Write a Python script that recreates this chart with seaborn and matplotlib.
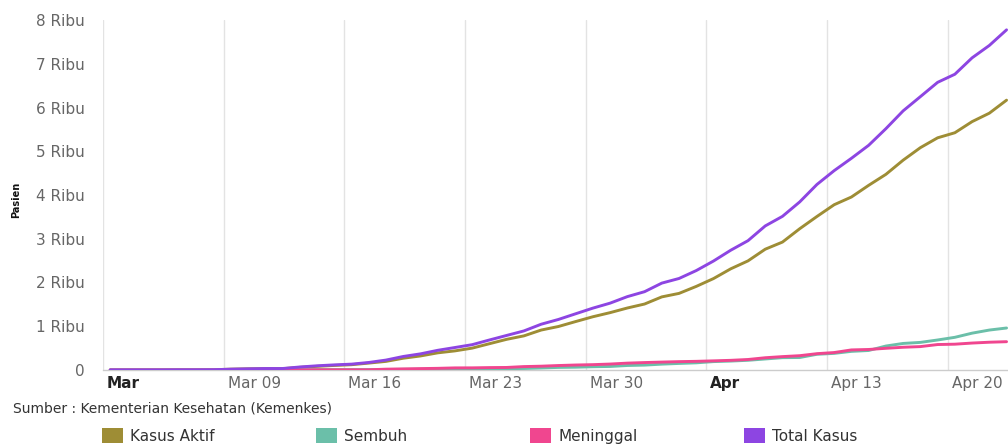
import numpy as np
import pandas as pd
import matplotlib
matplotlib.use("Agg")
import matplotlib.pyplot as plt
import matplotlib.dates as mdates
import matplotlib.transforms as mtransforms
from matplotlib.patches import Patch
import seaborn as sns

# ---- data (Mar 2 .. Apr 23, 2020) ----
start_date = "2020-03-02 10:00"
total_kasus = [2, 2, 2, 2, 4, 4, 6, 19, 27, 34, 34, 69, 96, 117, 134, 172, 227, 309, 369, 450,
               514, 579, 686, 790, 893, 1046, 1155, 1285, 1414, 1528, 1677, 1790, 1986, 2092,
               2273, 2491, 2738, 2956, 3293, 3512, 3842, 4241, 4557, 4839, 5136, 5516, 5923,
               6248, 6575, 6760, 7135, 7418, 7775]
sembuh = [0, 0, 0, 0, 0, 0, 0, 0, 0, 2, 3, 5, 8, 8, 8, 9, 11, 15, 16, 20,
          29, 30, 30, 31, 35, 46, 59, 64, 75, 81, 103, 112, 134, 150,
          164, 192, 204, 222, 252, 282, 286, 359, 380, 426, 446, 548, 607,
          631, 686, 747, 842, 913, 960]
meninggal = [0, 0, 0, 0, 0, 0, 0, 0, 0, 1, 1, 4, 5, 5, 5, 5, 19, 25, 32, 38,
             48, 49, 55, 58, 78, 87, 102, 114, 122, 136, 157, 170, 181, 191,
             198, 209, 221, 240, 280, 306, 327, 373, 399, 459, 469, 496, 520,
             535, 582, 590, 616, 635, 647]
kasus_aktif = [2, 2, 2, 2, 4, 4, 6, 19, 27, 31, 30, 60, 83, 104, 121, 158, 197, 269, 321, 392,
               437, 500, 601, 701, 780, 913, 994, 1107, 1217, 1311, 1417, 1508, 1671, 1751,
               1911, 2090, 2313, 2494, 2761, 2924, 3229, 3509, 3778, 3954, 4221, 4472, 4796,
               5082, 5307, 5423, 5677, 5870, 6168]

series_names = ["Kasus Aktif", "Sembuh", "Meninggal", "Total Kasus"]
series_colors = ["#9E8D35", "#6BBFA9", "#F0468F", "#8D45E2"]
y_ticks = [0, 1000, 2000, 3000, 4000, 5000, 6000, 7000, 8000]
y_tick_labels = ["0", "1 Ribu", "2 Ribu", "3 Ribu", "4 Ribu", "5 Ribu", "6 Ribu", "7 Ribu", "8 Ribu"]
x_tick_dates = ["2020-03-02", "2020-03-09", "2020-03-16", "2020-03-23", "2020-03-30",
                "2020-04-06", "2020-04-13", "2020-04-20"]
x_tick_labels = ["Mar", "Mar 09", "Mar 16", "Mar 23", "Mar 30", "Apr", "Apr 13", "Apr 20"]
bold_x_labels = ["Mar", "Apr"]

dates = pd.date_range(start_date, periods=len(total_kasus), freq="D")
values = {"Kasus Aktif": kasus_aktif, "Sembuh": sembuh,
          "Meninggal": meninggal, "Total Kasus": total_kasus}
df = pd.concat([pd.DataFrame({"Tanggal": dates, "Pasien": values[n], "Seri": n})
                for n in series_names], ignore_index=True)

# ---- figure ----
sns.set_theme(style="white")
plt.rcParams["font.family"] = ["DejaVu Sans"]

W, H = 1008, 444
fig = plt.figure(figsize=(W / 100, H / 100), dpi=100)
ax = fig.add_axes([103 / W, (H - 370) / H, (1008 - 103) / W, 350 / H])

sns.lineplot(data=df, x="Tanggal", y="Pasien", hue="Seri", hue_order=series_names,
             palette=dict(zip(series_names, series_colors)), linewidth=2.1,
             ax=ax, legend=False, zorder=3)

ax.set_ylim(0, 8000)
ax.set_xlim(pd.Timestamp("2020-03-02"), pd.Timestamp("2020-04-23 12:00"))

ax.set_yticks(y_ticks)
ax.set_yticklabels(y_tick_labels)
ax.tick_params(axis="y", length=0, pad=13, labelsize=11, labelcolor="#666666")

xt = [mdates.date2num(pd.Timestamp(d)) for d in x_tick_dates]
ax.set_xticks(xt)
ax.set_xticklabels(x_tick_labels)
ax.tick_params(axis="x", length=0, pad=4.5, labelsize=11, labelcolor="#666666")
offset = mtransforms.ScaledTranslation(4 / 100, 0, fig.dpi_scale_trans)
for lbl in ax.get_xticklabels():
    lbl.set_horizontalalignment("left")
    lbl.set_transform(lbl.get_transform() + offset)
    if lbl.get_text() in bold_x_labels:
        lbl.set_fontweight("bold")
        lbl.set_color("#222222")

ax.grid(axis="x", color="#e3e3e3", linewidth=1)
ax.grid(axis="y", visible=False)
for s in ["top", "right", "left"]:
    ax.spines[s].set_visible(False)
ax.spines["bottom"].set_color("#cccccc")
ax.spines["bottom"].set_linewidth(1)

ax.set_xlabel("")
ax.set_ylabel("Pasien", fontsize=7, fontweight="bold", color="#111111")
ax.yaxis.set_label_coords((21 - 103) / (1008 - 103), 0.486)

fig.text(13 / W, (H - 408) / H, "Sumber : Kementerian Kesehatan (Kemenkes)",
         fontsize=10, color="#333333", va="center", ha="left")

# legend items, evenly spaced like the original
leg_x = [102, 316, 530, 744]
for name, col, x in zip(series_names, series_colors, leg_x):
    leg = fig.legend(handles=[Patch(facecolor=col, edgecolor="none", label=name)],
                     loc="center left", bbox_to_anchor=(x / W, (H - 436) / H),
                     frameon=False, fontsize=11, handlelength=1.4, handleheight=1.15,
                     handletextpad=0.45, borderpad=0, borderaxespad=0)
    for t in leg.get_texts():
        t.set_color("#333333")

fig.savefig("out.png", dpi=100)
